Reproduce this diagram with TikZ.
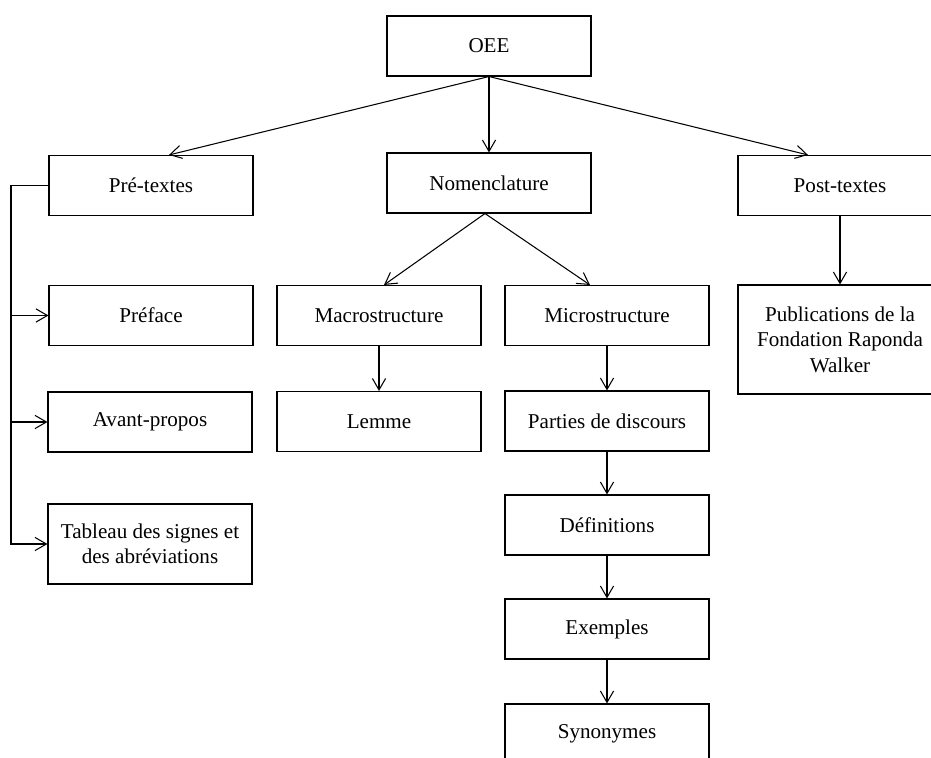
\documentclass[tikz,border=0pt]{standalone}
\usepackage{fontspec}
\setmainfont{Liberation Serif}
\usetikzlibrary{arrows.meta}
\begin{document}
\begin{tikzpicture}[line width=0.6pt,>={Straight Barb[length=6.5pt,width=7.5pt]},
  box/.style={draw,rectangle,minimum width=4.08cm,minimum height=1.2cm,align=center,font=\fontsize{12}{14.5}\selectfont}]
\clip (0,0) rectangle (18.62,15.16);
\node[box] (oee) at (9.78,14.24) {OEE};
\node[box] (nom) at (9.78,11.50) {Nomenclature};
\node[box] (pre) at (3.02,11.45) {Pré-textes};
\node[box] (post) at (16.80,11.45) {Post-textes};
\node[box,minimum height=2.18cm] (pub) at (16.80,8.37) {Publications de la\\Fondation Raponda\\Walker};
\node[box] (pref) at (3.02,8.85) {Préface};
\node[box] (macro) at (7.58,8.85) {Macrostructure};
\node[box] (micro) at (12.14,8.85) {Microstructure};
\node[box] (avant) at (3.00,6.72) {Avant-propos};
\node[box] (lemme) at (7.58,6.73) {Lemme};
\node[box] (parties) at (12.14,6.74) {Parties de discours};
\node[box,minimum height=1.6cm] (tab) at (3.00,4.28) {Tableau des signes et\\des abréviations};
\node[box] (def) at (12.14,4.66) {Définitions};
\node[box] (ex) at (12.14,2.58) {Exemples};
\node[box] (syn) at (12.14,0.48) {Synonymes};
\coordinate (bus) at (0.22,0);
\draw[->] (oee.south) -- ([xshift=0.36cm]pre.north);
\draw[->] (oee.south) -- (nom.north);
\draw[->] (oee.south) -- ([xshift=-0.64cm]post.north);
\draw[->] ([xshift=-0.08cm]nom.south) -- ([xshift=0.1cm]macro.north);
\draw[->] ([xshift=-0.08cm]nom.south) -- ([xshift=-0.34cm]micro.north);
\draw[->] (post.south) -- (pub.north);
\draw[->] (macro.south) -- (lemme.north);
\draw[->] (micro.south) -- (parties.north);
\draw[->] (parties.south) -- (def.north);
\draw[->] (def.south) -- (ex.north);
\draw[->] (ex.south) -- (syn.north);
\draw[->] (pre.west) -- (pre.west -| bus) |- (tab.west);
\draw[->] (pref.west -| bus) -- (pref.west);
\draw[->] (avant.west -| bus) -- (avant.west);
\end{tikzpicture}
\end{document}
